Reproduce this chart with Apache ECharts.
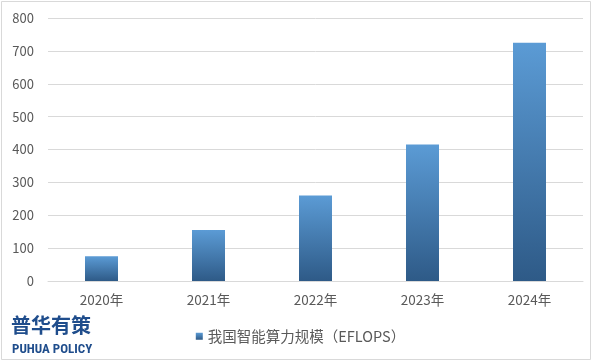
<!DOCTYPE html>
<html><head><meta charset="utf-8">
<script src="https://cdn.jsdelivr.net/npm/echarts@6/dist/echarts.min.js"></script>
<style>html,body{margin:0;padding:0;background:#fff}#c{width:601px;height:361px}</style>
</head><body><div id="c"></div>
<script>
const categories = ['2020年','2021年','2022年','2023年','2024年'];
const values = [75, 155, 260, 415, 725];
const seriesName = '我国智能算力规模（EFLOPS）';
const yTicks = {min: 0, max: 800, interval: 100};

const chart = echarts.init(document.getElementById('c'), null, {renderer: 'canvas'});
const font = '"Microsoft YaHei","Noto Sans CJK SC","Noto Sans",sans-serif';
chart.setOption({
  backgroundColor: '#fff',
  animation: false,
  grid: {left: 48, right: 18, top: 18, bottom: 80, containLabel: false},
  legend: {
    data: [seriesName], left: 'center', top: 324, itemWidth: 7, itemHeight: 7, itemGap: 5,
    icon: 'rect', textStyle: {color: '#595959', fontSize: 14.5, fontFamily: font}
  },
  xAxis: {
    type: 'category', data: categories,
    axisLine: {lineStyle: {color: '#d9d9d9'}}, axisTick: {show: false},
    axisLabel: {color: '#595959', fontSize: 13.5, fontFamily: font, margin: 12}
  },
  yAxis: {
    type: 'value', min: yTicks.min, max: yTicks.max, interval: yTicks.interval,
    axisLine: {show: false}, axisTick: {show: false},
    splitLine: {lineStyle: {color: '#d9d9d9'}},
    axisLabel: {color: '#595959', fontSize: 13, fontFamily: font, margin: 14}
  },
  series: [{
    name: seriesName, type: 'bar', data: values, barWidth: 33,
    itemStyle: {color: new echarts.graphic.LinearGradient(0, 0, 0, 1, [
      {offset: 0, color: '#5b9bd5'}, {offset: 1, color: '#2e5a87'}
    ])}
  }],
  graphic: [
    {type: 'rect', shape: {x: 1.5, y: 1.5, width: 589, height: 358}, style: {fill: 'none', stroke: '#d9d9d9', lineWidth: 1}, silent: true},
    {type: 'text', left: 11, top: 315, style: {text: '普华有策', fill: '#1f4d8c', font: 'bold 20px "Noto Sans CJK SC", sans-serif'}},
    {type: 'text', left: 12, top: 343, style: {text: 'PUHUA POLICY', fill: '#1f4d8c', font: 'bold 13px "Roboto Condensed","Liberation Sans Narrow","Roboto",sans-serif'}}
  ]
});
</script></body></html>
